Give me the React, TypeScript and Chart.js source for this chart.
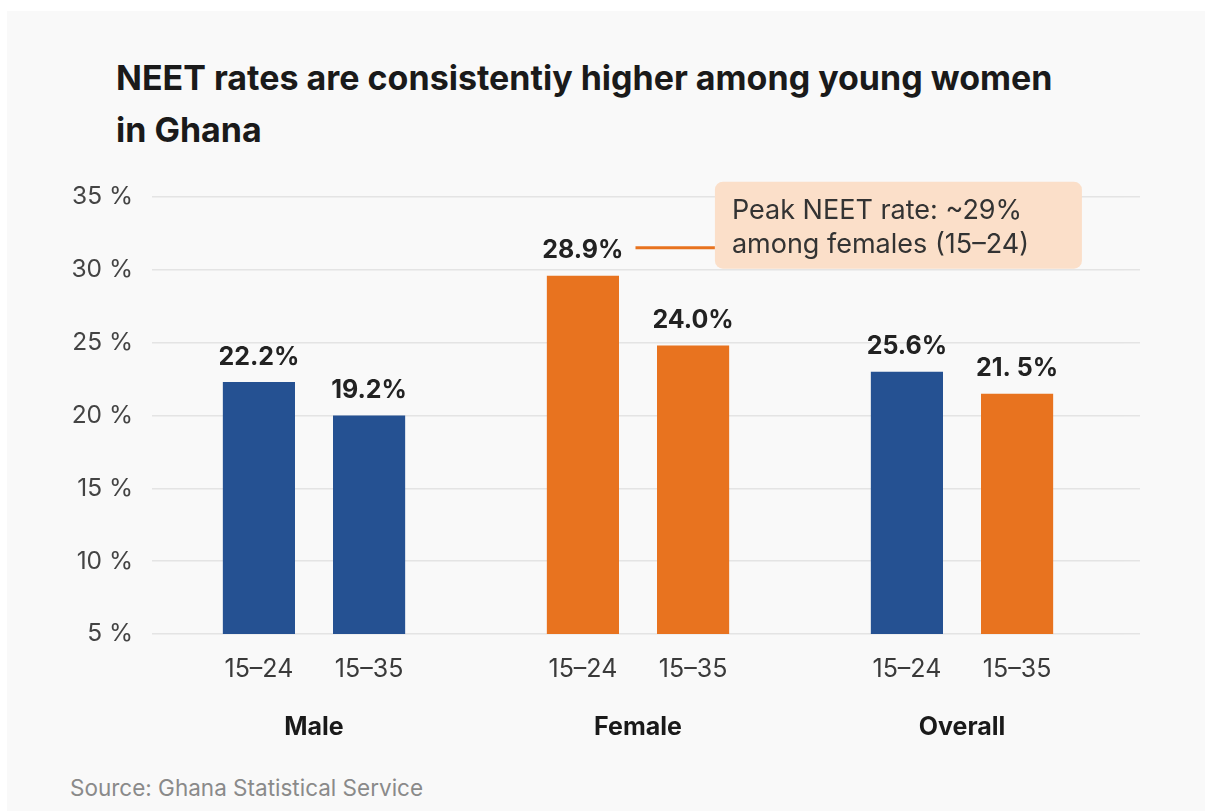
import React, { useEffect, useRef } from "react";
import { Chart, registerables } from "chart.js";

Chart.register(...registerables);

// ---- data ----
const groups = ["Male", "Female", "Overall"];
const ageBands = ["15–24", "15–35"];
// bar heights as drawn (percent)
const values1524 = [22.3, 29.6, 23.0];
const values1535 = [20.0, 24.8, 21.5];
// value labels as printed on the chart
const labels1524 = ["22.2%", "28.9%", "25.6%"];
const labels1535 = ["19.2%", "24.0%", "21. 5%"];
const yMin = 5;
const yMax = 35;
const yStep = 5;
const annotationLines = ["Peak NEET rate: ~29%", "among females (15–24)"];
const titleText = "NEET rates are consistentiy higher among young women in Ghana";
const sourceText = "Source: Ghana Statistical Service";

const BLUE = "#255192";
const ORANGE = "#e8731f";
const colors1524 = [BLUE, ORANGE, BLUE];
const colors1535 = [BLUE, ORANGE, ORANGE];

const FONT = "Inter, 'Noto Sans', sans-serif";

const labelPlugin = {
  id: "barLabels",
  afterDatasetsDraw(chart: any) {
    const ctx = chart.ctx;
    const area = chart.chartArea;
    const valueLabels = [labels1524, labels1535];
    ctx.save();
    chart.data.datasets.forEach((_ds: any, i: number) => {
      const meta = chart.getDatasetMeta(i);
      meta.data.forEach((el: any, j: number) => {
        ctx.fillStyle = "#222222";
        ctx.font = `bold 25px ${FONT}`;
        ctx.textAlign = "center";
        ctx.textBaseline = "middle";
        ctx.fillText(valueLabels[i][j], el.x, el.y - 25);
        ctx.fillStyle = "#3a3a3a";
        ctx.font = `25px ${FONT}`;
        ctx.fillText(ageBands[i], el.x, area.bottom + 35);
      });
    });
    // annotation for the peak bar (Female 15–24)
    const peak = chart.getDatasetMeta(0).data[1];
    const ly = peak.y - 29;
    ctx.font = `bold 25px ${FONT}`;
    const w = ctx.measureText(labels1524[1]).width;
    const boxLeft = peak.x + 132;
    const boxTop = ly - 65;
    const boxW = 367;
    const boxH = 87;
    ctx.strokeStyle = ORANGE;
    ctx.lineWidth = 3;
    ctx.beginPath();
    ctx.moveTo(peak.x + w / 2 + 12, ly + 1);
    ctx.lineTo(boxLeft, ly + 1);
    ctx.stroke();
    ctx.fillStyle = "#fbdfc9";
    ctx.beginPath();
    (ctx as any).roundRect(boxLeft, boxTop, boxW, boxH, 8);
    ctx.fill();
    ctx.fillStyle = "#333333";
    ctx.font = `27px ${FONT}`;
    ctx.textAlign = "left";
    ctx.textBaseline = "middle";
    ctx.fillText(annotationLines[0], boxLeft + 17, boxTop + 29);
    ctx.fillText(annotationLines[1], boxLeft + 17, boxTop + 63);
    ctx.restore();
  },
};

function NeetChart() {
  const ref = useRef<HTMLCanvasElement | null>(null);
  useEffect(() => {
    if (!ref.current) return;
    const chart = new Chart(ref.current, {
      type: "bar",
      data: {
        labels: groups,
        datasets: [
          {
            label: ageBands[0],
            data: values1524,
            backgroundColor: colors1524,
            barPercentage: 0.655,
            categoryPercentage: 0.68,
          },
          {
            label: ageBands[1],
            data: values1535,
            backgroundColor: colors1535,
            barPercentage: 0.655,
            categoryPercentage: 0.68,
          },
        ],
      },
      options: {
        animation: false,
        responsive: true,
        maintainAspectRatio: false,
        layout: { padding: { top: 37, left: 0, right: 0, bottom: 0 } },
        plugins: {
          legend: { display: false },
          tooltip: { enabled: false },
          title: { display: false },
        },
        scales: {
          x: {
            grid: { display: false, drawTicks: false },
            border: { display: false },
            ticks: {
              padding: 78,
              color: "#1a1a1a",
              font: { family: FONT, size: 25, weight: "bold" },
            },
            afterFit(scale: any) {
              scale.height = 126;
            },
          },
          y: {
            min: yMin,
            max: yMax,
            position: "left",
            grid: { color: "#e4e4e4", lineWidth: 1.5, drawTicks: false },
            border: { display: false },
            ticks: {
              stepSize: yStep,
              padding: 19,
              color: "#444444",
              font: { family: FONT, size: 24.5 },
              callback: (v: any) => `${v} %`,
            },
            afterFit(scale: any) {
              scale.width = 145;
            },
          },
          y2: {
            min: yMin,
            max: yMax,
            position: "right",
            grid: {
              color: "#e4e4e4",
              lineWidth: 1.5,
              drawOnChartArea: false,
              drawTicks: true,
              tickLength: 16,
            },
            border: { display: false },
            ticks: { stepSize: yStep, display: false },
            afterFit(scale: any) {
              scale.width = 81;
            },
          },
        },
      },
      plugins: [labelPlugin],
    });
    return () => chart.destroy();
  }, []);
  return <canvas ref={ref} />;
}

export default function App() {
  return (
    <div
      style={{
        position: "fixed",
        left: 0,
        top: 0,
        width: 1205,
        height: 811,
        background: "#ffffff",
        overflow: "hidden",
        fontFamily: FONT,
      }}
    >
      <div
        style={{
          position: "absolute",
          left: 7,
          top: 11,
          right: 0,
          bottom: 0,
          background: "#f9f9f9",
        }}
      />
      <div
        style={{
          position: "absolute",
          left: 116,
          top: 52,
          width: 965,
          fontSize: 34,
          fontWeight: 700,
          lineHeight: "52px",
          color: "#1a1a1a",
        }}
      >
        {titleText}
      </div>
      <div
        style={{
          position: "absolute",
          left: 7,
          top: 160,
          width: 1198,
          height: 600,
        }}
      >
        <NeetChart />
      </div>
      <div
        style={{
          position: "absolute",
          left: 70,
          top: 774,
          fontSize: 22.5,
          color: "#8a8a8a",
        }}
      >
        {sourceText}
      </div>
    </div>
  );
}
